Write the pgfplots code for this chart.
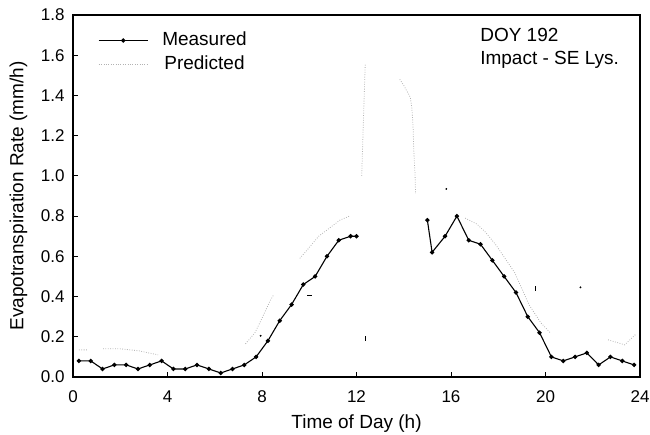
\documentclass[border=0pt]{standalone}
\usepackage{pgfplots}
\pgfplotsset{compat=1.18}
\usepackage{fontspec}
\setmainfont{Liberation Sans}
\usetikzlibrary{calc}

% measured ET, half-hourly
\pgfplotstableread{
x y
0.25 0.08
0.75 0.08
1.25 0.04
1.75 0.06
2.25 0.06
2.75 0.04
3.25 0.06
3.75 0.08
4.25 0.04
4.75 0.04
5.25 0.06
5.75 0.04
6.25 0.02
6.75 0.04
7.25 0.06
7.75 0.10
8.25 0.18
8.75 0.28
9.25 0.36
9.75 0.46
10.25 0.50
10.75 0.60
11.25 0.68
11.75 0.70
12.00 0.70
nan nan
15.00 0.78
15.20 0.62
15.75 0.70
16.25 0.80
16.75 0.68
17.25 0.66
17.75 0.58
18.25 0.50
18.75 0.42
19.25 0.30
19.75 0.22
20.25 0.10
20.75 0.08
21.25 0.10
21.75 0.12
22.25 0.06
22.75 0.10
23.25 0.08
23.75 0.06
}\measured

% predicted ET (only the parts that show in the scan)
\pgfplotstableread{
x y
0.25 0.135
0.60 0.135
nan nan
1.27 0.14
2.00 0.14
2.80 0.13
3.60 0.11
nan nan
7.30 0.165
7.70 0.22
7.95 0.28
8.35 0.38
8.50 0.41
nan nan
9.60 0.59
9.90 0.63
10.40 0.70
11.30 0.78
11.70 0.80
nan nan
12.22 1.00
12.30 1.30
12.37 1.56
nan nan
13.83 1.48
14.00 1.45
14.28 1.39
14.35 1.33
14.40 1.23
14.42 1.14
14.48 1.00
14.50 0.91
nan nan
16.60 0.79
17.10 0.76
17.46 0.72
17.88 0.66
18.69 0.52
19.15 0.40
19.30 0.36
19.80 0.27
20.20 0.22
nan nan
22.65 0.185
23.35 0.16
23.80 0.21
}\predicted

\begin{document}
\begin{tikzpicture}
\begin{axis}[
  scale only axis, width=567pt, height=362pt,
  xmin=0, xmax=24, ymin=0, ymax=1.8,
  xtick={0,4,8,12,16,20,24},
  ytick={0,0.2,0.4,0.6,0.8,1.0,1.2,1.4,1.6,1.8},
  yticklabel style={/pgf/number format/fixed, /pgf/number format/fixed zerofill, /pgf/number format/precision=1},
  /pgf/number format/assume math mode=true,
  tick align=inside, major tick length=5pt,
  xtick pos=bottom, ytick pos=left,
  tick style={black, line width=0.8pt},
  axis line style={line width=1.1pt},
  ticklabel style={font=\fontsize{17}{20}\selectfont},
  xticklabel style={anchor=base, yshift=-25pt},
  yticklabel style={xshift=-5pt},
  xlabel={Time of Day (h)},
  ylabel={Evapotranspiration Rate (mm/h)},
  label style={font=\fontsize{19}{22}\selectfont},
  xlabel style={at={(axis description cs:0.5,-0.1436)}, anchor=base},
  ylabel style={at={(axis description cs:-0.096,0.5)}, anchor=center},
  unbounded coords=jump,
  legend style={at={(axis description cs:0.044,0.957)}, anchor=north west,
    draw=none, fill=none, inner sep=0pt,
    font=\fontsize{19}{22}\selectfont, row sep=4.5pt,
    nodes={inner sep=1pt, text height=13.5pt, text depth=4pt},
    /tikz/every odd column/.append style={column sep=13pt}},
  legend image code/.code={\draw[#1, mark repeat=2, mark phase=2]
    plot coordinates {(0pt,0pt) (24.5pt,0pt) (49pt,0pt)};},
]
\addplot[black, line width=1.1pt, mark=*, mark size=1.6pt] table[x=x, y=y] {\measured};
\addlegendentry{Measured}
\addplot[gray!60, line width=0.8pt, dash pattern=on 0.8pt off 1.6pt] table[x=x, y=y] {\predicted};
\addlegendentry{Predicted}
% stray specks in the scan
\addplot[only marks, black, mark=|, mark size=2.5pt, forget plot] coordinates {(12.36,0.19) (19.58,0.44)};
\addplot[only marks, black, mark=-, mark size=2.5pt, forget plot] coordinates {(9.99,0.405)};
\addplot[only marks, black, mark=*, mark size=0.7pt, forget plot] coordinates {(7.94,0.205) (21.48,0.446) (15.8,0.935)};
\node[anchor=base west, inner sep=0pt, font=\fontsize{19}{22}\selectfont] at (axis description cs:0.718,0.926) {DOY 192};
\node[anchor=base west, inner sep=0pt, font=\fontsize{19}{22}\selectfont] at (axis description cs:0.718,0.862) {Impact - SE Lys.};
\coordinate (bl) at (rel axis cs:0,0);
\coordinate (tr) at (rel axis cs:1,1);
\end{axis}
\pgfresetboundingbox
\path[use as bounding box] ($(bl)+(-73pt,-57pt)$) rectangle ($(tr)+(10pt,15pt)$);
\end{tikzpicture}
\end{document}
